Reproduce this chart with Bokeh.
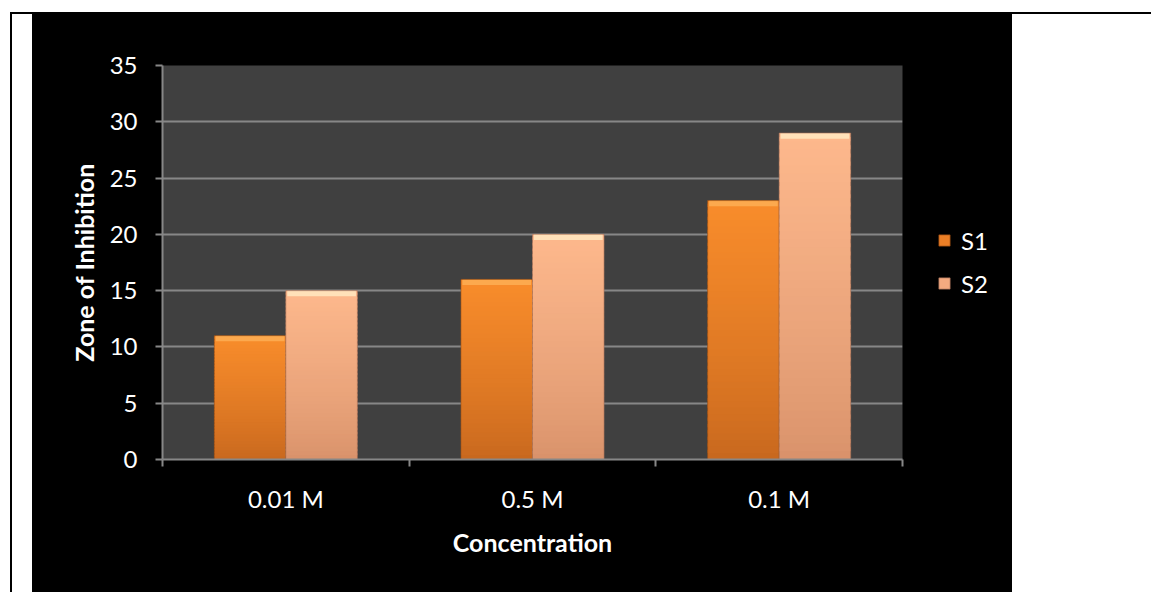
import numpy as np
from bokeh.plotting import figure
from bokeh.models import Range1d, FixedTicker, Legend, LegendItem, ColumnDataSource, Spacer
from bokeh.layouts import column, row
from bokeh.embed import file_html
from bokeh.resources import INLINE

# ---- data ----
categories = ["0.01 M", "0.5 M", "0.1 M"]
series_names = ["S1", "S2"]
s1_values = [11, 16, 23]
s2_values = [15, 20, 29]
y_ticks = [0, 5, 10, 15, 20, 25, 30, 35]
x_title = "Concentration"
y_title = "Zone of Inhibition"

# ---- styles ----
FONT = "Lato"
TICK_SIZE = "24px"
TITLE_SIZE = "25px"
GRID = "#878787"
N_SEG = 40
BAR_W = 0.29
OFFSETS = [-0.145, 0.145]
GRAD = {"S1": ("#C8681E", "#F88C2B"), "S2": ("#D9926B", "#FDB88C")}
BEVEL = {"S1": "#FCB058", "S2": "#FFEBC4"}
EDGE = {"S1": "#9A4C12", "S2": "#A87258"}
LEGEND_COL = {"S1": "#EC7F26", "S2": "#F4AA80"}
BEVEL_H = 0.5  # data units
FIG_H = 578
MAIN_W, LEG_W = 872, 108
FRAME_L, FRAME_R, FRAME_T, FRAME_B = 130, 2, 51, 133


def hex2rgb(h):
    h = h.lstrip("#")
    return tuple(int(h[i:i + 2], 16) for i in (0, 2, 4))


def mix(c1, c2, t):
    a, b = hex2rgb(c1), hex2rgb(c2)
    return "#%02x%02x%02x" % tuple(int(round(a[i] + (b[i] - a[i]) * t)) for i in range(3))


p = figure(width=MAIN_W, height=FIG_H,
           x_range=Range1d(0, len(categories)), y_range=Range1d(0, max(y_ticks)),
           output_backend="svg", toolbar_location=None,
           background_fill_color="#404040", border_fill_color="black",
           outline_line_color=None,
           min_border_left=FRAME_L, min_border_right=FRAME_R,
           min_border_top=FRAME_T, min_border_bottom=FRAME_B)

centers = np.arange(len(categories)) + 0.5
for name, vals, off in zip(series_names, [s1_values, s2_values], OFFSETS):
    vals = np.asarray(vals, dtype=float)
    xs, bots, tops, cols = [], [], [], []
    for i in range(N_SEG):
        t = i / (N_SEG - 1)
        for c, v in zip(centers, vals):
            xs.append(c + off)
            bots.append(v * i / N_SEG)
            tops.append(min(v, v * (i + 1.5) / N_SEG))
            cols.append(mix(GRAD[name][0], GRAD[name][1], t ** 0.8))
    src = ColumnDataSource(dict(x=xs, bottom=bots, top=tops, color=cols))
    p.vbar(x="x", bottom="bottom", top="top", width=BAR_W, source=src,
           fill_color="color", line_color=None)
    # top bevel highlight
    p.vbar(x=centers + off, bottom=vals - BEVEL_H, top=vals, width=BAR_W * 0.96,
           fill_color=BEVEL[name], fill_alpha=0.8, line_color=None)
    # edges
    p.vbar(x=centers + off, bottom=0, top=vals, width=BAR_W,
           fill_alpha=0, line_color=EDGE[name], line_alpha=0.6, line_width=1)

# x axis: labels at centres, ticks at category boundaries
p.xaxis.ticker = FixedTicker(ticks=list(centers), minor_ticks=list(range(len(categories) + 1)))
p.xaxis.major_label_overrides = {float(c): lab for c, lab in zip(centers, categories)}
p.xaxis.major_tick_line_color = None
p.xaxis.major_tick_out = 0
p.xaxis.minor_tick_line_color = GRID
p.xaxis.minor_tick_line_width = 2
p.xaxis.minor_tick_out = 7
p.xaxis.minor_tick_in = 0
p.xaxis.major_label_standoff = 17
p.xaxis.axis_label = x_title
p.xaxis.axis_label_standoff = 11

p.yaxis.ticker = FixedTicker(ticks=y_ticks)
p.yaxis.major_tick_line_color = GRID
p.yaxis.major_tick_line_width = 2
p.yaxis.major_tick_out = 7
p.yaxis.major_tick_in = 0
p.yaxis.minor_tick_line_color = None
p.yaxis.major_label_standoff = 18
p.yaxis.axis_label = y_title
p.yaxis.axis_label_standoff = 8

for ax in (p.xaxis, p.yaxis):
    ax.axis_line_color = GRID
    ax.axis_line_width = 2
    ax.major_label_text_color = "white"
    ax.major_label_text_font = FONT
    ax.major_label_text_font_size = TICK_SIZE
    ax.axis_label_text_color = "white"
    ax.axis_label_text_font = FONT
    ax.axis_label_text_font_size = TITLE_SIZE
    ax.axis_label_text_font_style = "bold"

p.xgrid.visible = False
p.ygrid.grid_line_color = GRID
p.ygrid.grid_line_width = 2

# ---- legend panel (separate black figure to the right, frame aligned with main) ----
lp = figure(width=LEG_W, height=FIG_H, x_range=Range1d(0, 1), y_range=Range1d(0, 1),
            output_backend="svg", toolbar_location=None,
            x_axis_location=None, y_axis_location=None,
            background_fill_color="black", border_fill_color="black",
            outline_line_color=None,
            min_border_left=0, min_border_right=0,
            min_border_top=FRAME_T, min_border_bottom=FRAME_B)
lp.xgrid.visible = False
lp.ygrid.visible = False
items = []
for name in series_names:
    # legend proxy: a bar with no position (NaN) so nothing is drawn in the panel
    r = lp.vbar(x=[np.nan], top=[np.nan], width=0.1, fill_color=LEGEND_COL[name],
                line_color=EDGE[name], line_alpha=0.7)
    items.append(LegendItem(label=name, renderers=[r]))
frame_h = FIG_H - FRAME_T - FRAME_B
leg_center_from_bottom = (FRAME_T + frame_h) - (262.5 - 14)
legend = Legend(items=items, location=(33, leg_center_from_bottom - 35),
                orientation="vertical",
                background_fill_alpha=0, border_line_color=None,
                label_text_color="white", label_text_font=FONT, label_text_font_size=TICK_SIZE,
                glyph_width=14, glyph_height=14, label_height=20, spacing=14,
                label_standoff=10, padding=4, margin=0)
lp.add_layout(legend, "center")

top_line = row(Spacer(width=10, height=2),
               Spacer(width=1141, height=2, styles={"background-color": "black"}))
chart = row(p, lp, styles={"background-color": "black"})
body = row(Spacer(width=10, height=FIG_H),
           Spacer(width=2, height=FIG_H, styles={"background-color": "black"}),
           Spacer(width=20, height=FIG_H),
           chart)
layout = column(Spacer(width=10, height=12), top_line, body)

open("out.html", "w").write(file_html(layout, INLINE))
